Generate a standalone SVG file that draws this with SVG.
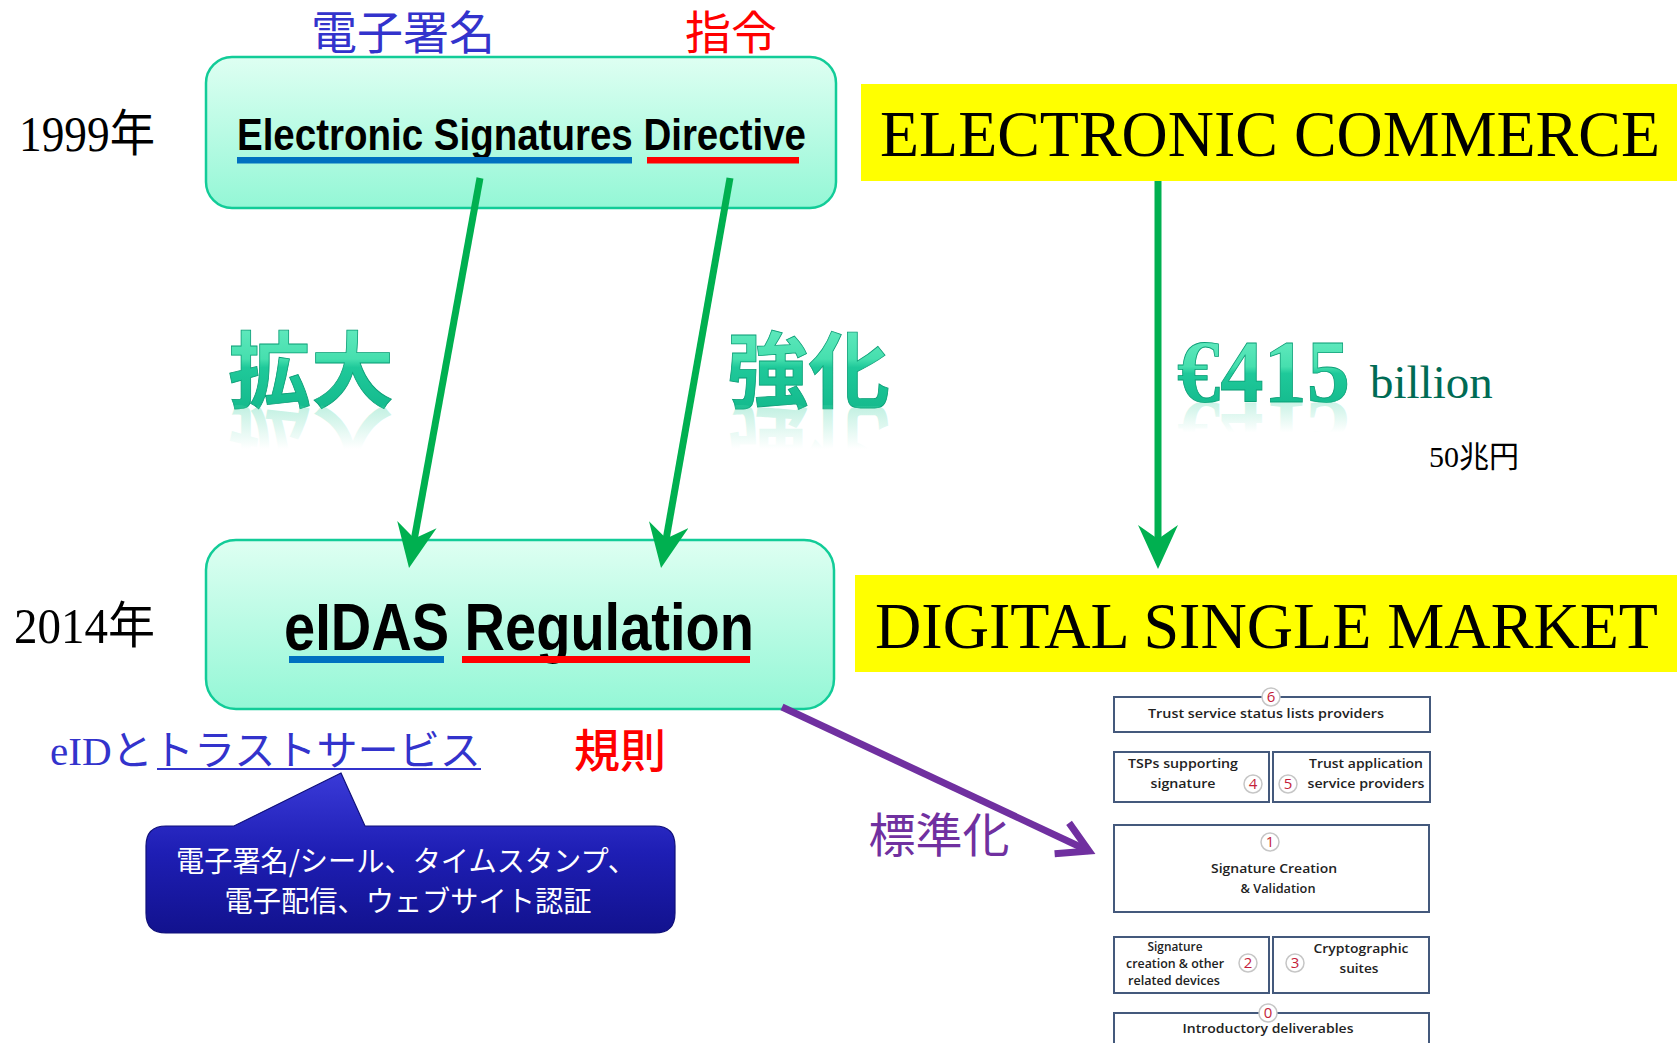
<svg xmlns="http://www.w3.org/2000/svg" width="1677" height="1043" viewBox="0 0 1677 1043">
<defs>
<style>
.box{stroke:#12cc98;stroke-width:2.5;fill:url(#mint)}
.serif{font-family:"Liberation Serif","Noto Sans CJK JP",serif}
.jp{font-family:"Noto Sans CJK JP",sans-serif}
.narrow{font-family:"Liberation Sans Narrow","Liberation Sans",sans-serif;font-weight:bold;fill:#000}
.yel{fill:#ffff00}
.big{font-family:"Liberation Serif",serif;fill:#000}
.g3d{fill:url(#g3d);stroke:#0a9e76;stroke-width:0.8}
.refl{fill:url(#refl)}
.garrow{stroke:#00b050;stroke-width:7;fill:none;marker-end:url(#ghead)}
.sb{fill:#fff;stroke:#44597c;stroke-width:2}
.st{font-family:"Open Sans","Liberation Sans",sans-serif;font-weight:600;fill:#222;text-anchor:middle}
.nc{fill:#fff;stroke:#c6c6c6;stroke-width:1.5}
.nt{font-family:"Open Sans","Liberation Sans",sans-serif;font-size:15px;fill:#c41e3a;text-anchor:middle}
</style>
<linearGradient id="mint" x1="0" y1="0" x2="0" y2="1">
<stop offset="0" stop-color="#defff2"/>
<stop offset="1" stop-color="#94f7d6"/>
</linearGradient>
<linearGradient id="g3d" x1="0" y1="0" x2="0" y2="1">
<stop offset="0" stop-color="#72f0c8"/>
<stop offset="0.45" stop-color="#46dfae"/>
<stop offset="0.52" stop-color="#1fc99a"/>
<stop offset="1" stop-color="#10b488"/>
</linearGradient>
<linearGradient id="refl" x1="0" y1="0" x2="0" y2="1">
<stop offset="0" stop-color="#40d2a4" stop-opacity="0"/>
<stop offset="0.5" stop-color="#40d2a4" stop-opacity="0"/>
<stop offset="1" stop-color="#40d2a4" stop-opacity="0.45"/>
</linearGradient>
<linearGradient id="callout" x1="0" y1="0" x2="0" y2="1">
<stop offset="0" stop-color="#3a3ad8"/>
<stop offset="0.5" stop-color="#1e1eb4"/>
<stop offset="1" stop-color="#12128e"/>
</linearGradient>
<marker id="ghead" markerUnits="userSpaceOnUse" viewBox="0 0 44 40" markerWidth="44" markerHeight="40" refX="24" refY="20" orient="auto">
<path d="M44,20 L0,0 L14,20 L0,40 Z" fill="#00b050"/>
</marker>
<marker id="phead" markerUnits="userSpaceOnUse" viewBox="-40 -25 50 50" markerWidth="50" markerHeight="50" refX="0" refY="0" orient="auto">
<polyline points="-30,-17 0,0 -30,17" fill="none" stroke="#7030a0" stroke-width="7" stroke-linejoin="miter"/>
</marker>
</defs>
<rect width="1677" height="1043" fill="#fff"/>

<g id="label-1999"><text class="serif" x="19" y="151" font-size="50" textLength="136" lengthAdjust="spacingAndGlyphs">1999年</text></g>
<g id="label-2014"><text class="serif" x="14" y="643" font-size="50" textLength="141" lengthAdjust="spacingAndGlyphs">2014年</text></g>

<g id="directive">
<text class="jp" x="403" y="49" font-size="46" fill="#3333cc" text-anchor="middle">電子署名</text>
<text class="jp" x="731" y="49" font-size="46" fill="#ff0000" text-anchor="middle">指令</text>
<rect class="box" x="206" y="57" width="630" height="151" rx="26"/>
<text class="narrow" x="237" y="150" font-size="45" textLength="569" lengthAdjust="spacingAndGlyphs">Electronic Signatures Directive</text>
<rect x="237" y="157" width="395" height="6.5" fill="#0070c0"/>
<rect x="647" y="157" width="152" height="6.5" fill="#ff0000"/>
</g>

<g id="eidas">
<rect class="box" x="206" y="540" width="628" height="169" rx="30"/>
<text class="narrow" x="284" y="650" font-size="67" textLength="470" lengthAdjust="spacingAndGlyphs">eIDAS Regulation</text>
<rect x="289" y="656" width="155" height="7" fill="#0070c0"/>
<rect x="462" y="656" width="288" height="7" fill="#ff0000"/>
</g>

<g id="ecommerce">
<rect class="yel" x="861" y="84" width="816" height="97"/>
<text class="big" x="880" y="156" font-size="66" textLength="780" lengthAdjust="spacingAndGlyphs">ELECTRONIC COMMERCE</text>
</g>

<g id="dsm">
<rect class="yel" x="855" y="575" width="822" height="97"/>
<text class="big" x="875" y="648" font-size="65" textLength="783" lengthAdjust="spacingAndGlyphs">DIGITAL SINGLE MARKET</text>
</g>

<g id="kakudai">
<text class="jp g3d" x="228" y="401" font-size="83" font-weight="bold" textLength="166" lengthAdjust="spacingAndGlyphs">拡大</text>
<text class="jp refl" x="228" y="401" font-size="83" font-weight="bold" textLength="166" lengthAdjust="spacingAndGlyphs" transform="translate(0,814) scale(1,-1)">拡大</text>
</g>
<g id="kyouka">
<text class="jp g3d" x="727" y="401" font-size="83" font-weight="bold" textLength="163" lengthAdjust="spacingAndGlyphs">強化</text>
<text class="jp refl" x="727" y="401" font-size="83" font-weight="bold" textLength="163" lengthAdjust="spacingAndGlyphs" transform="translate(0,814) scale(1,-1)">強化</text>
</g>

<g id="amount">
<text class="g3d" x="1177" y="401" font-size="88" font-weight="bold" font-family="Liberation Serif, serif" textLength="173" lengthAdjust="spacingAndGlyphs">€415</text>
<text class="refl" x="1177" y="401" font-size="88" font-weight="bold" font-family="Liberation Serif, serif" textLength="173" lengthAdjust="spacingAndGlyphs" transform="translate(0,804) scale(1,-1)">€415</text>
<text class="serif" x="1370" y="398" font-size="47" fill="#006b54">billion</text>
<text class="serif" x="1429" y="467" font-size="30" fill="#000">50兆円</text>
</g>

<g id="trust-label">
<text x="50" y="765" font-size="41" fill="#3333cc" textLength="431" lengthAdjust="spacingAndGlyphs"><tspan font-family="Liberation Serif, serif">eID</tspan><tspan font-family="Noto Sans CJK JP, sans-serif">とトラストサービス</tspan></text>
<line x1="157" y1="769" x2="481" y2="769" stroke="#3333cc" stroke-width="2"/>
<text class="jp" x="620" y="767" font-size="46" fill="#ff0000" font-weight="500" text-anchor="middle">規則</text>
</g>

<g id="callout">
<path d="M166,826 L234,826 L341,773 L365,826 L655,826 Q675,826 675,846 L675,913 Q675,933 655,933 L166,933 Q146,933 146,913 L146,846 Q146,826 166,826 Z" fill="url(#callout)" stroke="#10107a" stroke-width="1.2"/>
<text class="jp" x="406" y="872" font-size="29" fill="#fff" text-anchor="middle" textLength="460" lengthAdjust="spacingAndGlyphs">電子署名/シール、タイムスタンプ、</text>
<text class="jp" x="408" y="912" font-size="29" fill="#fff" text-anchor="middle" textLength="367" lengthAdjust="spacingAndGlyphs">電子配信、ウェブサイト認証</text>
</g>

<g id="standardize-label">
<text class="jp" x="939" y="852" font-size="47" fill="#7030a0" text-anchor="middle">標準化</text>
</g>

<g id="std-6">
<rect class="sb" x="1114" y="697" width="316" height="35"/>
<circle class="nc" cx="1271" cy="697" r="9"/>
<text class="nt" x="1271" y="702">6</text>
<text class="st" x="1266" y="718" font-size="13" textLength="236" lengthAdjust="spacingAndGlyphs">Trust service status lists providers</text>
</g>
<g id="std-4">
<rect class="sb" x="1114" y="752" width="155" height="50"/>
<text class="st" x="1183" y="768" font-size="13" textLength="110" lengthAdjust="spacingAndGlyphs">TSPs supporting</text>
<text class="st" x="1183" y="788" font-size="13" textLength="65" lengthAdjust="spacingAndGlyphs">signature</text>
<circle class="nc" cx="1253" cy="784" r="9"/>
<text class="nt" x="1253" y="789">4</text>
</g>
<g id="std-5">
<rect class="sb" x="1273" y="752" width="157" height="50"/>
<text class="st" x="1366" y="768" font-size="13" textLength="114" lengthAdjust="spacingAndGlyphs">Trust application</text>
<text class="st" x="1366" y="788" font-size="13" textLength="117" lengthAdjust="spacingAndGlyphs">service providers</text>
<circle class="nc" cx="1288" cy="784" r="9"/>
<text class="nt" x="1288" y="789">5</text>
</g>
<g id="std-1">
<rect class="sb" x="1114" y="825" width="315" height="87"/>
<circle class="nc" cx="1270" cy="842" r="9"/>
<text class="nt" x="1270" y="847">1</text>
<text class="st" x="1274" y="873" font-size="13" textLength="126" lengthAdjust="spacingAndGlyphs">Signature Creation</text>
<text class="st" x="1278" y="893" font-size="13" textLength="75" lengthAdjust="spacingAndGlyphs">&amp; Validation</text>
</g>
<g id="std-2">
<rect class="sb" x="1114" y="937" width="155" height="56"/>
<text class="st" x="1175" y="951" font-size="12" textLength="55" lengthAdjust="spacingAndGlyphs">Signature</text>
<text class="st" x="1175" y="968" font-size="12" textLength="98" lengthAdjust="spacingAndGlyphs">creation &amp; other</text>
<text class="st" x="1174" y="985" font-size="12" textLength="92" lengthAdjust="spacingAndGlyphs">related devices</text>
<circle class="nc" cx="1248" cy="963" r="9"/>
<text class="nt" x="1248" y="968">2</text>
</g>
<g id="std-3">
<rect class="sb" x="1273" y="937" width="156" height="56"/>
<text class="st" x="1361" y="953" font-size="13" textLength="95" lengthAdjust="spacingAndGlyphs">Cryptographic</text>
<text class="st" x="1359" y="973" font-size="13" textLength="39" lengthAdjust="spacingAndGlyphs">suites</text>
<circle class="nc" cx="1295" cy="963" r="9"/>
<text class="nt" x="1295" y="968">3</text>
</g>
<g id="std-0">
<rect class="sb" x="1114" y="1013" width="315" height="40"/>
<circle class="nc" cx="1268" cy="1013" r="9"/>
<text class="nt" x="1268" y="1018">0</text>
<text class="st" x="1268" y="1033" font-size="13" textLength="171" lengthAdjust="spacingAndGlyphs">Introductory deliverables</text>
</g>

<g id="connectors">
<line class="garrow" x1="480" y1="178" x2="412.6" y2="548.3"/>
<line class="garrow" x1="730" y1="178" x2="664.5" y2="548.3"/>
<line class="garrow" x1="1158" y1="181" x2="1158" y2="549"/>
<line x1="782" y1="707" x2="1089" y2="851" stroke="#7030a0" stroke-width="7" marker-end="url(#phead)"/>
</g>
</svg>
